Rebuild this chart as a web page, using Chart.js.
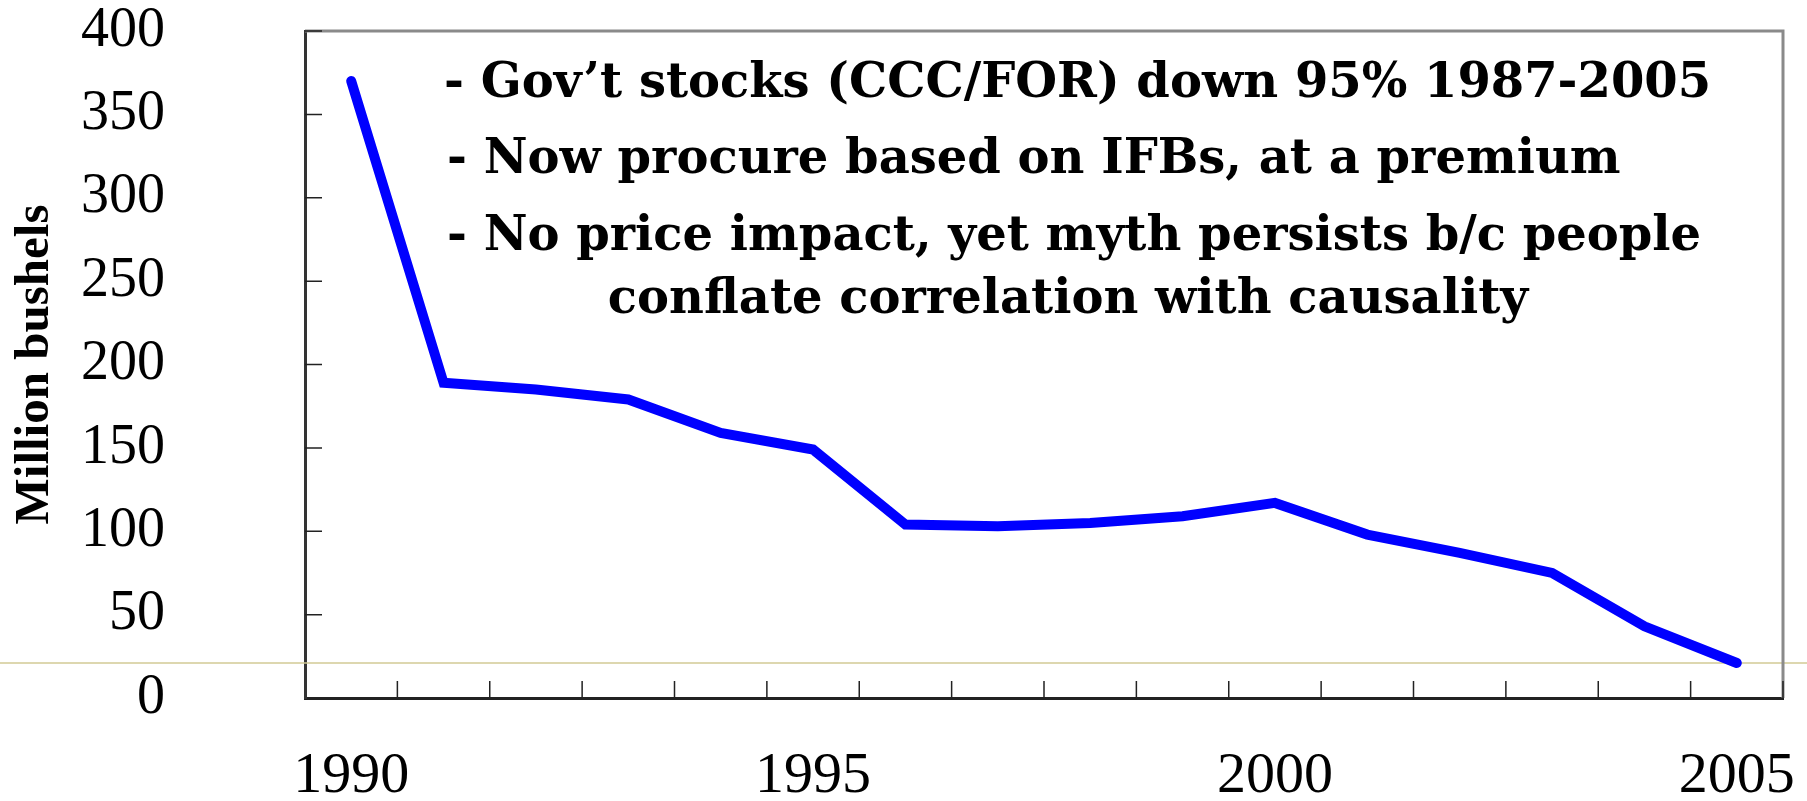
<!DOCTYPE html>
<html>
<head>
<meta charset="utf-8">
<script src="https://cdn.jsdelivr.net/npm/chart.js@4.4.0/dist/chart.umd.min.js"></script>
<style>
    html, body { margin: 0; padding: 0; background: #fff; }
    #wrap { width: 1807px; height: 801px; }
</style>
</head>
<body>
<div id="wrap"><canvas id="chartStocks"></canvas></div>
<script>
const years = ["1990", "1991", "1992", "1993", "1994", "1995", "1996", "1997",
               "1998", "1999", "2000", "2001", "2002", "2003", "2004", "2005"];
const stocks = [370, 189, 185, 179, 159, 149, 104, 103, 105, 109, 117, 98, 87, 75, 43, 21];
const yTicks = [0, 50, 100, 150, 200, 250, 300, 350, 400];
const labelYears = ["1990", "1995", "2000", "2005"];
const notes = [
    "- Gov\u2019t stocks (CCC/FOR) down 95% 1987-2005",
    "- Now procure based on IFBs, at a premium",
    "- No price impact, yet myth persists b/c people",
    "conflate correlation with causality"
];
const guideValue = 21;

// short tick marks pointing into the plot, plus the grey top/right frame
const frame = {
    id: "frame",
    beforeDatasetsDraw(chart) {
        const {ctx, chartArea: a, scales: {x, y}} = chart;
        ctx.save();
        // faint horizontal guide running across the whole picture
        ctx.strokeStyle = "#d2ca94";
        ctx.lineWidth = 1.5;
        const gy = y.getPixelForValue(guideValue);
        ctx.beginPath();
        ctx.moveTo(0, gy);
        ctx.lineTo(chart.width, gy);
        ctx.stroke();

        ctx.strokeStyle = "#8a8a8a";
        ctx.lineWidth = 3;
        ctx.beginPath();
        ctx.moveTo(a.left, a.top);
        ctx.lineTo(a.right, a.top);
        ctx.lineTo(a.right, a.bottom);
        ctx.stroke();

        ctx.strokeStyle = "#222";
        ctx.lineWidth = 1.5;
        ctx.beginPath();
        for (let i = 1; i <= years.length; i++) {
            const px = x.getPixelForValue(i - 0.5);
            ctx.moveTo(px, a.bottom);
            ctx.lineTo(px, a.bottom - 17);
        }
        yTicks.forEach(v => {
            if (v === 0) return;
            const py = y.getPixelForValue(v);
            ctx.moveTo(a.left, py);
            ctx.lineTo(a.left + 17, py);
        });
        ctx.stroke();
        ctx.restore();
    }
};

const noteText = {
    id: "noteText",
    afterDatasetsDraw(chart) {
        const {ctx, chartArea: a} = chart;
        ctx.save();
        ctx.fillStyle = "#000";
        ctx.font = "bold 48px 'DejaVu Serif'";
        ctx.textBaseline = "alphabetic";
        ctx.textAlign = "left";
        ctx.fillText(notes[0], a.left + 139, a.top + 66);
        ctx.fillText(notes[1], a.left + 142, a.top + 142);
        ctx.fillText(notes[2], a.left + 142, a.top + 219);
        ctx.textAlign = "center";
        ctx.fillText(notes[3], a.left + 763, a.top + 282);
        ctx.restore();
    }
};

new Chart(document.getElementById("chartStocks"), {
    type: "line",
    data: {
        labels: years,
        datasets: [{
            data: stocks,
            borderColor: "#0000ff",
            borderWidth: 10,
            borderCapStyle: "round",
            borderJoinStyle: "miter",
            pointRadius: 0,
            tension: 0,
            clip: false
        }]
    },
    options: {
        responsive: true,
        maintainAspectRatio: false,
        animation: false,
        devicePixelRatio: 1,
        layout: { padding: { top: 31, right: 24, left: 0, bottom: 0 } },
        plugins: {
            legend: { display: false },
            tooltip: { enabled: false }
        },
        scales: {
            x: {
                offset: true,
                grid: { display: false, drawTicks: false },
                border: { display: true, color: "#222", width: 3 },
                ticks: {
                    autoSkip: false,
                    maxRotation: 0,
                    padding: 50,
                    color: "#000",
                    font: { family: "'Liberation Serif'", size: 58, lineHeight: 1 },
                    callback: function (val) {
                        const lab = this.getLabelForValue(val);
                        return labelYears.includes(lab) ? lab : "";
                    }
                },
                afterFit: s => {
                    s.height = 103;
                    s.paddingLeft = 0;
                    s.paddingRight = 0;
                }
            },
            y: {
                min: 0,
                max: 400,
                grid: { display: false, drawTicks: false },
                border: { display: true, color: "#333", width: 3 },
                afterBuildTicks: s => { s.ticks = yTicks.map(v => ({ value: v })); },
                ticks: {
                    padding: 140,
                    color: "#000",
                    font: { family: "'Liberation Serif'", size: 56, lineHeight: 1 }
                },
                title: {
                    display: true,
                    text: "Million bushels",
                    color: "#000",
                    padding: { top: 6, bottom: 0 },
                    font: { family: "'Liberation Serif'", size: 49, weight: "bold", lineHeight: 1.2 }
                },
                afterFit: s => {
                    s.width = 305;
                    s.paddingTop = 0;
                    s.paddingBottom = 0;
                }
            }
        }
    },
    plugins: [frame, noteText]
});
</script>
</body>
</html>
